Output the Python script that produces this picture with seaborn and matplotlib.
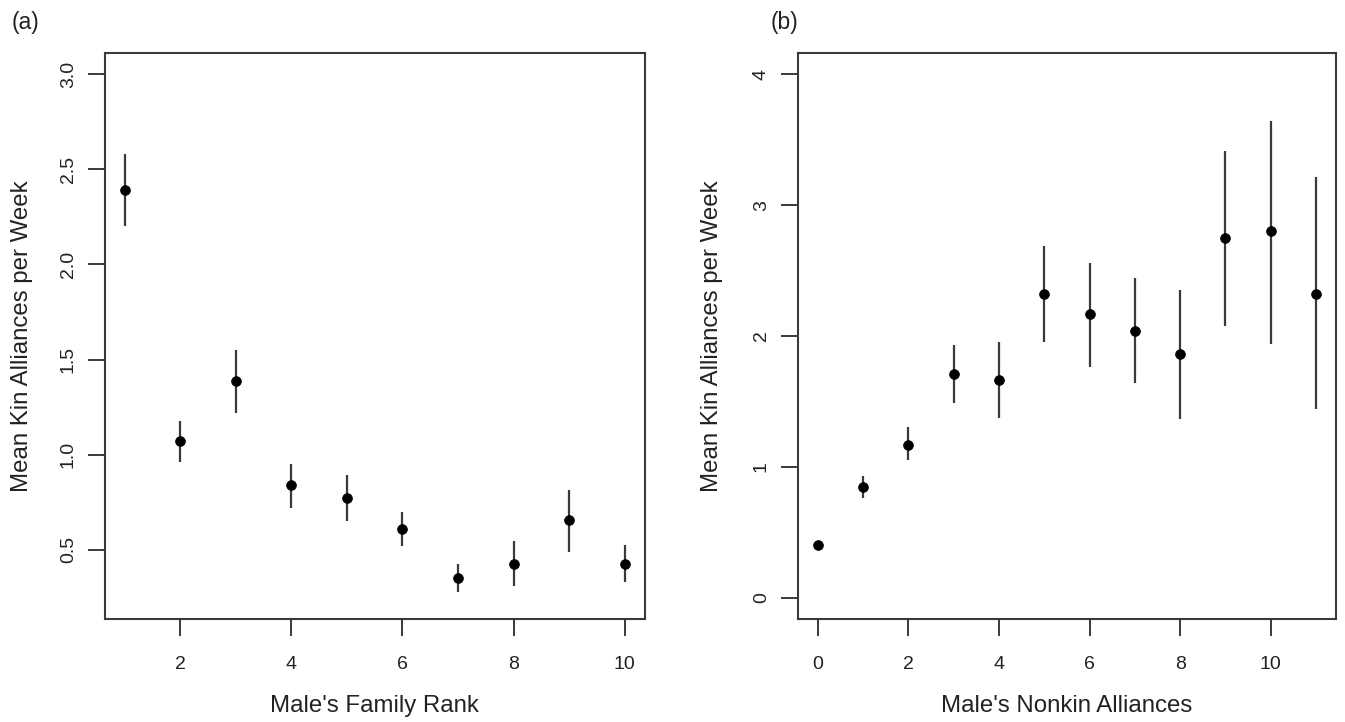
import matplotlib
matplotlib.use("Agg")
import matplotlib.pyplot as plt
import seaborn as sns
import pandas as pd

# Panel (a): kin alliances by family rank
rank = [1, 2, 3, 4, 5, 6, 7, 8, 9, 10]
rank_mean = [2.39, 1.07, 1.385, 0.84, 0.77, 0.61, 0.35, 0.425, 0.655, 0.425]
rank_lo = [2.20, 0.96, 1.22, 0.72, 0.65, 0.52, 0.28, 0.31, 0.49, 0.33]
rank_hi = [2.58, 1.175, 1.55, 0.95, 0.895, 0.70, 0.425, 0.545, 0.815, 0.525]

# Panel (b): kin alliances by number of nonkin alliances
nonkin = [0, 1, 2, 3, 4, 5, 6, 7, 8, 9, 10, 11]
nonkin_mean = [0.405, 0.85, 1.17, 1.71, 1.665, 2.32, 2.165, 2.04, 1.86, 2.75, 2.80, 2.32]
nonkin_lo = [0.38, 0.765, 1.05, 1.485, 1.375, 1.955, 1.76, 1.64, 1.365, 2.075, 1.94, 1.44]
nonkin_hi = [0.43, 0.93, 1.305, 1.935, 1.955, 2.685, 2.56, 2.445, 2.355, 3.41, 3.645, 3.215]

ylabel = "Mean Kin Alliances per Week"

sns.set_style("white")
plt.rcParams["font.family"] = ["Liberation Sans", "DejaVu Sans"]

W, H = 1345, 722
fig = plt.figure(figsize=(W / 100, H / 100), dpi=100)

def px_axes(x0, x1, y0, y1):
    return fig.add_axes([x0 / W, 1 - y1 / H, (x1 - x0) / W, (y1 - y0) / H])

ax_a = px_axes(104.7, 644.7, 53.3, 618.7)
ax_b = px_axes(797.7, 1336.0, 53.3, 618.7)

line_col = "#3a3a3a"
text_col = "#222222"
tick_fs = 14
label_fs = 17.3

def draw_panel(ax, x, mean, lo, hi, xlim, ylim, xticks, yticks, xlabel):
    df = pd.DataFrame({"x": x, "mean": mean, "lo": lo, "hi": hi})
    ax.vlines(df["x"], df["lo"], df["hi"], color=line_col, lw=1.6, zorder=2)
    sns.scatterplot(data=df, x="x", y="mean", ax=ax, color="black", s=50,
                    edgecolor="black", linewidth=0.5, zorder=3, legend=False)
    ax.set_xlim(*xlim)
    ax.set_ylim(*ylim)
    ax.set_xticks(xticks)
    ax.set_yticks(yticks)
    ax.set_xticklabels([f"{t:g}" for t in xticks])
    ax.set_yticklabels([f"{t:.1f}" if isinstance(t, float) else str(t) for t in yticks],
                       rotation=90, va="center")
    ax.tick_params(axis="both", direction="out", length=12.5, width=1.4,
                   color=line_col, labelsize=tick_fs, labelcolor=text_col,
                   bottom=True, left=True)
    ax.tick_params(axis="x", pad=14)
    ax.tick_params(axis="y", pad=7.5)
    for sp in ax.spines.values():
        sp.set_visible(True)
        sp.set_color(line_col)
        sp.set_linewidth(1.5)
    ax.set_xlabel("")
    ax.set_ylabel("")
    cx = (ax.get_position().x0 + ax.get_position().x1) / 2
    fig.text(cx, 1 - 706 / H, xlabel, ha="center", va="center",
             fontsize=label_fs, color=text_col)

draw_panel(ax_a, rank, rank_mean, rank_lo, rank_hi, (0.64, 10.36), (0.138, 3.109),
           [2, 4, 6, 8, 10], [0.5, 1.0, 1.5, 2.0, 2.5, 3.0], "Male's Family Rank")
draw_panel(ax_b, nonkin, nonkin_mean, nonkin_lo, nonkin_hi, (-0.44, 11.44), (-0.16, 4.16),
           [0, 2, 4, 6, 8, 10], [0, 1, 2, 3, 4], "Male's Nonkin Alliances")

ymid = 1 - 336 / H
fig.text(22 / W, ymid, ylabel, rotation=90, ha="center", va="center",
         fontsize=label_fs, color=text_col)
fig.text(712 / W, ymid, ylabel, rotation=90, ha="center", va="center",
         fontsize=label_fs, color=text_col)

fig.text(12 / W, 1 - 22 / H, "(a)", ha="left", va="center", fontsize=16.5, color=text_col)
fig.text(771 / W, 1 - 22 / H, "(b)", ha="left", va="center", fontsize=16.5, color=text_col)

fig.savefig("out.png", dpi=100, facecolor="white")
